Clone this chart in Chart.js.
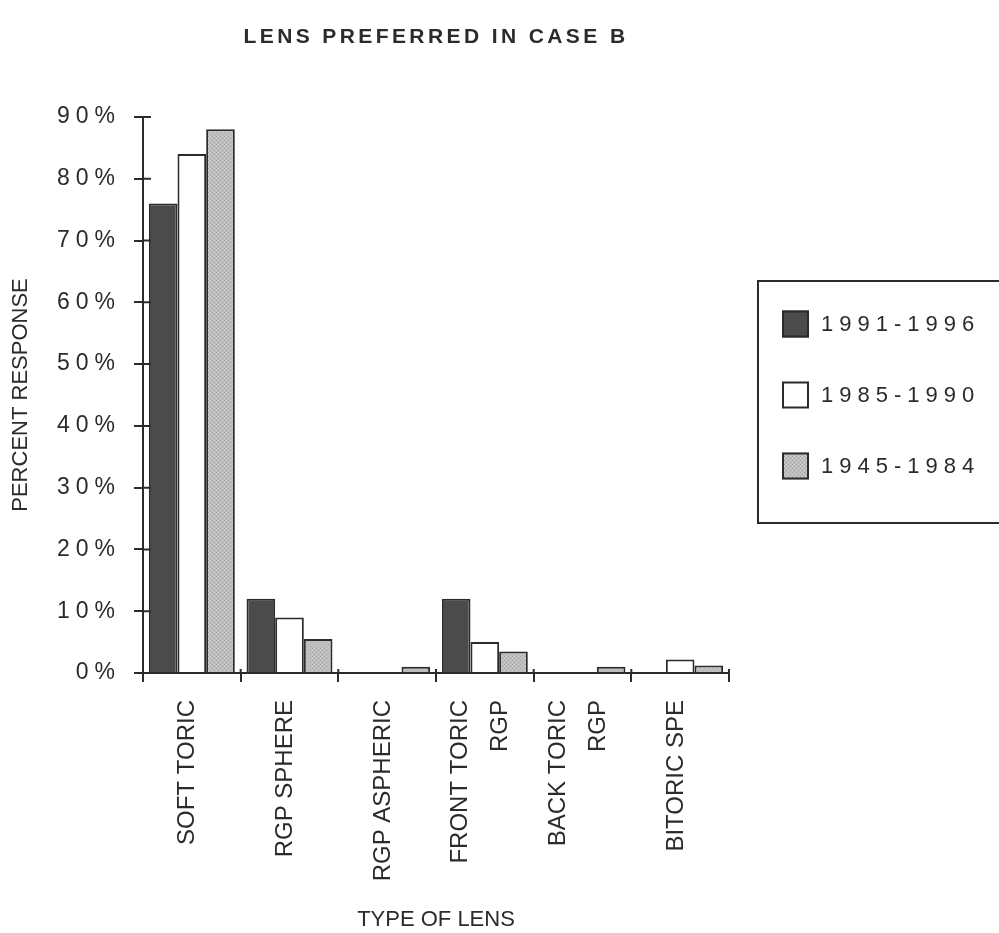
<!DOCTYPE html>
<html>
<head>
<meta charset="utf-8">
<script src="https://cdn.jsdelivr.net/npm/chart.js@4.4.1/dist/chart.umd.min.js"></script>
<style>
  html, body { margin: 0; padding: 0; background: #ffffff; }
  #wrap { width: 999px; height: 933px; position: relative; }
</style>
</head>
<body>
<div id="wrap"><canvas id="chart" width="999" height="933"></canvas></div>
<script>
// Lens types (multi-line labels are drawn one line after another)
const categories = [
  ['SOFT TORIC'],
  ['RGP SPHERE'],
  ['RGP ASPHERIC'],
  ['FRONT TORIC', 'RGP'],
  ['BACK TORIC', 'RGP'],
  ['BITORIC SPE']
];

// Series labels (graduation periods)
const seriesNames = ['1991-1996', '1985-1990', '1945-1984'];

// Percent response per lens type
const grad1991 = [76, 12, 0, 12, 0, 0];
const grad1985 = [84, 9, 0, 5, 0, 2.2];
const grad1945 = [88, 5.5, 1, 3.5, 1, 1.2];

// Y-axis ticks
const yTicks = [0, 10, 20, 30, 40, 50, 60, 70, 80, 90];

const INK = '#2b2b2b';
const SANS = '"Liberation Sans", Arial, Helvetica, sans-serif';
const X_LINE_HEIGHT = 40;

// Light stippled grey fill for the oldest group
function stipple() {
  const c = document.createElement('canvas');
  c.width = 4; c.height = 4;
  const g = c.getContext('2d');
  g.fillStyle = '#bdbdbd';
  g.fillRect(0, 0, 4, 4);
  g.fillStyle = '#a9a9a9';
  g.fillRect(0, 0, 1, 1);
  g.fillRect(2, 2, 1, 1);
  g.fillStyle = '#cdcdcd';
  g.fillRect(2, 0, 1, 1);
  g.fillRect(0, 2, 1, 1);
  return g.createPattern(c, 'repeat');
}
const FILLS = ['#4b4b4b', '#ffffff', stipple()];

// Tick marks that cross the axis lines (inner half of each tick)
const crossTicks = {
  id: 'crossTicks',
  afterDraw(chart) {
    const { ctx, chartArea, scales } = chart;
    ctx.save();
    ctx.strokeStyle = INK;
    ctx.lineWidth = 2;
    ctx.beginPath();
    scales.y.ticks.forEach(t => {
      const y = scales.y.getPixelForValue(t.value);
      ctx.moveTo(chartArea.left, y);
      ctx.lineTo(chartArea.left + 8, y);
    });
    const n = chart.data.labels.length;
    for (let i = 0; i <= n; i++) {
      let x;
      if (i === 0) x = chartArea.left;
      else if (i === n) x = chartArea.right;
      else x = (scales.x.getPixelForValue(i - 1) + scales.x.getPixelForValue(i)) / 2;
      ctx.moveTo(x, chartArea.bottom);
      ctx.lineTo(x, chartArea.bottom - 4);
    }
    ctx.stroke();
    ctx.restore();
  }
};

// Letter-spaced title and y tick labels; two-line category labels centred on their tick
const textTweaks = {
  id: 'textTweaks',
  beforeDraw(chart) {
    const ctx = chart.ctx;
    const y = chart.scales.y;
    if (y && !y._spacedWrap) {
      const orig = y.drawLabels;
      y.drawLabels = function (area) {
        ctx.save();
        ctx.letterSpacing = '6px';
        orig.call(this, area);
        ctx.restore();
      };
      y._spacedWrap = true;
    }
    const tb = chart.titleBlock;
    if (tb && !tb._spacedWrap) {
      const origT = tb.draw;
      tb.draw = function () {
        ctx.save();
        ctx.letterSpacing = '3.4px';
        origT.call(this);
        ctx.restore();
      };
      tb._spacedWrap = true;
    }
    const x = chart.scales.x;
    if (x && !x._centerWrap) {
      const origC = x._computeLabelItems;
      x._computeLabelItems = function (area) {
        const items = origC.call(this, area);
        items.forEach(it => {
          if (Array.isArray(it.label) && it.label.length > 1) {
            it.options.translation[0] -= (it.label.length - 1) * X_LINE_HEIGHT / 2;
          }
        });
        return items;
      };
      x._centerWrap = true;
      x._labelItems = null;
    }
  }
};

// Boxed legend to the right of the plot
const boxLegend = {
  id: 'boxLegend',
  afterDraw(chart) {
    const { ctx } = chart;
    const left = 758, top = 281, right = 1010, bottom = 523;
    ctx.save();
    ctx.strokeStyle = INK;
    ctx.lineWidth = 2;
    ctx.strokeRect(left, top, right - left, bottom - top);
    ctx.font = '22px ' + SANS;
    ctx.letterSpacing = '6px';
    ctx.textBaseline = 'middle';
    chart.data.datasets.forEach((ds, i) => {
      const cy = 324 + i * 71;
      const sx = 782, size = 27;
      ctx.fillStyle = ds.backgroundColor;
      ctx.fillRect(sx, cy - size / 2, size, size);
      ctx.strokeStyle = ds.borderColor;
      ctx.lineWidth = 2;
      ctx.strokeRect(sx + 1, cy - size / 2 + 1, size - 2, size - 2);
      ctx.fillStyle = INK;
      ctx.fillText(ds.label, sx + size + 12, cy + 1);
    });
    ctx.restore();
  }
};

const datasets = [grad1991, grad1985, grad1945].map((vals, i) => ({
  label: seriesNames[i],
  data: vals,
  backgroundColor: FILLS[i],
  borderColor: INK,
  borderWidth: 2,
  borderSkipped: 'bottom',
  categoryPercentage: 0.88,
  barPercentage: 1.0
}));

new Chart(document.getElementById('chart'), {
  type: 'bar',
  data: { labels: categories, datasets },
  plugins: [textTweaks, crossTicks, boxLegend],
  options: {
    responsive: false,
    animation: false,
    devicePixelRatio: 1,
    layout: { padding: { left: 0, right: 270, top: 0, bottom: 0 } },
    plugins: {
      legend: { display: false },
      tooltip: { enabled: false },
      title: {
        display: true,
        fullSize: false,
        text: 'LENS PREFERRED IN CASE B',
        color: INK,
        font: { family: SANS, size: 21, weight: 'bold', lineHeight: 1.2 },
        padding: { top: 25, bottom: 66.8 }
      }
    },
    scales: {
      x: {
        border: { display: true, color: INK, width: 2 },
        grid: { display: true, drawOnChartArea: false, color: INK, lineWidth: 2, tickLength: 9, offset: true },
        ticks: {
          color: INK,
          minRotation: 90,
          maxRotation: 90,
          autoSkip: false,
          padding: 18,
          labelOffset: -4,
          font: { family: SANS, size: 24, lineHeight: X_LINE_HEIGHT + 'px' }
        },
        title: {
          display: true,
          text: 'TYPE OF LENS',
          color: INK,
          font: { family: SANS, size: 22 },
          padding: { top: 2, bottom: 0 }
        },
        afterFit(scale) { scale.height = 260; }
      },
      y: {
        min: 0,
        max: 90,
        afterBuildTicks(scale) { scale.ticks = yTicks.map(v => ({ value: v })); },
        border: { display: true, color: INK, width: 2 },
        grid: { display: true, drawOnChartArea: false, color: INK, lineWidth: 2, tickLength: 9 },
        ticks: {
          color: INK,
          padding: 13,
          font: { family: SANS, size: 23 },
          callback: v => v + '%'
        },
        title: {
          display: true,
          text: 'PERCENT RESPONSE',
          color: INK,
          font: { family: SANS, size: 22 },
          padding: { top: 8, bottom: 4 }
        },
        afterFit(scale) { scale.width = 143; }
      }
    }
  }
});
</script>
</body>
</html>
